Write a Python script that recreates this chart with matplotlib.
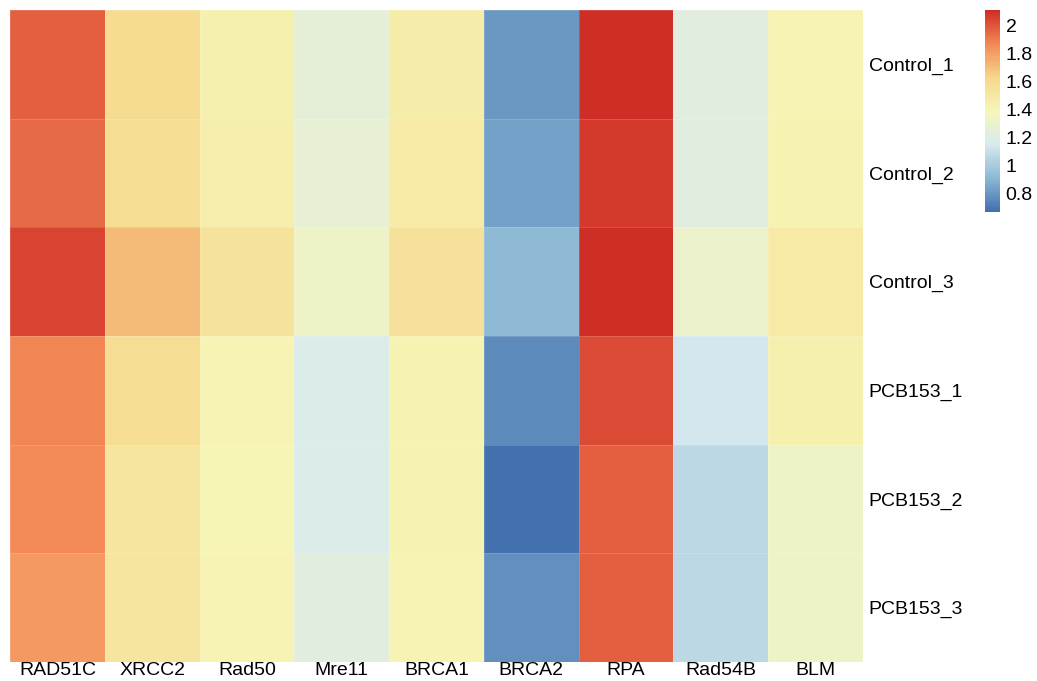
import numpy as np
import matplotlib
matplotlib.use("Agg")
from matplotlib import pyplot as plt
from matplotlib.colors import LinearSegmentedColormap, to_rgb

plt.rcParams['font.family'] = ['Liberation Sans', 'DejaVu Sans']

genes = ["RAD51C", "XRCC2", "Rad50", "Mre11", "BRCA1", "BRCA2", "RPA", "Rad54B", "BLM"]
samples = ["Control_1", "Control_2", "Control_3", "PCB153_1", "PCB153_2", "PCB153_3"]

control_1 = [1.97, 1.60, 1.44, 1.25, 1.47, 0.80, 2.10, 1.23, 1.41]
control_2 = [1.95, 1.58, 1.45, 1.27, 1.48, 0.83, 2.08, 1.22, 1.43]
control_3 = [2.05, 1.72, 1.54, 1.32, 1.56, 0.92, 2.11, 1.31, 1.49]
pcb153_1 = [1.87, 1.58, 1.41, 1.18, 1.43, 0.76, 2.03, 1.14, 1.44]
pcb153_2 = [1.86, 1.52, 1.40, 1.18, 1.42, 0.67, 1.98, 1.07, 1.33]
pcb153_3 = [1.82, 1.53, 1.41, 1.23, 1.41, 0.78, 1.98, 1.06, 1.32]

vals = np.array([control_1, control_2, control_3, pcb153_1, pcb153_2, pcb153_3])
vmin, vmax = 0.67, 2.11

# pheatmap default palette: rev(brewer RdYlBu 7), slightly muted like the reference
cols = ["#4575B4", "#91BFDB", "#E0F3F8", "#FFFFBF", "#FEE090", "#FC8D59", "#D73027"]
cols = [tuple(0.965 * c for c in to_rgb(h)) for h in cols]
cmap = LinearSegmentedColormap.from_list("rdylbu", cols, N=100)

fig = plt.figure(figsize=(10.37, 6.81), dpi=100)
ax = fig.add_axes([10/1037, 1 - 662/681, 853/1037, 652/681])
mesh = ax.pcolormesh(vals, cmap=cmap, vmin=vmin, vmax=vmax,
                     edgecolors=(1, 1, 1, 0.15), linewidth=0.6)
ax.set_xlim(0, len(genes))
ax.set_ylim(len(samples), 0)
for s in ax.spines.values():
    s.set_visible(False)
ax.set_xticks(np.arange(len(genes)) + 0.5)
ax.set_xticklabels(genes, fontsize=14)
ax.set_yticks(np.arange(len(samples)) + 0.5)
ax.set_yticklabels(samples, fontsize=14)
ax.yaxis.tick_right()
ax.tick_params(axis='y', length=0, pad=4)
ax.tick_params(axis='x', length=0, pad=0)

cax = fig.add_axes([985/1037, 1 - 212/681, 15/1037, 202/681])
cb = fig.colorbar(mesh, cax=cax, ticks=[0.8, 1, 1.2, 1.4, 1.6, 1.8, 2])
cb.ax.set_yticklabels(["0.8", "1", "1.2", "1.4", "1.6", "1.8", "2"], fontsize=14)
cb.outline.set_visible(False)
cb.ax.tick_params(length=0, pad=4)

fig.savefig("out.png", dpi=100)
